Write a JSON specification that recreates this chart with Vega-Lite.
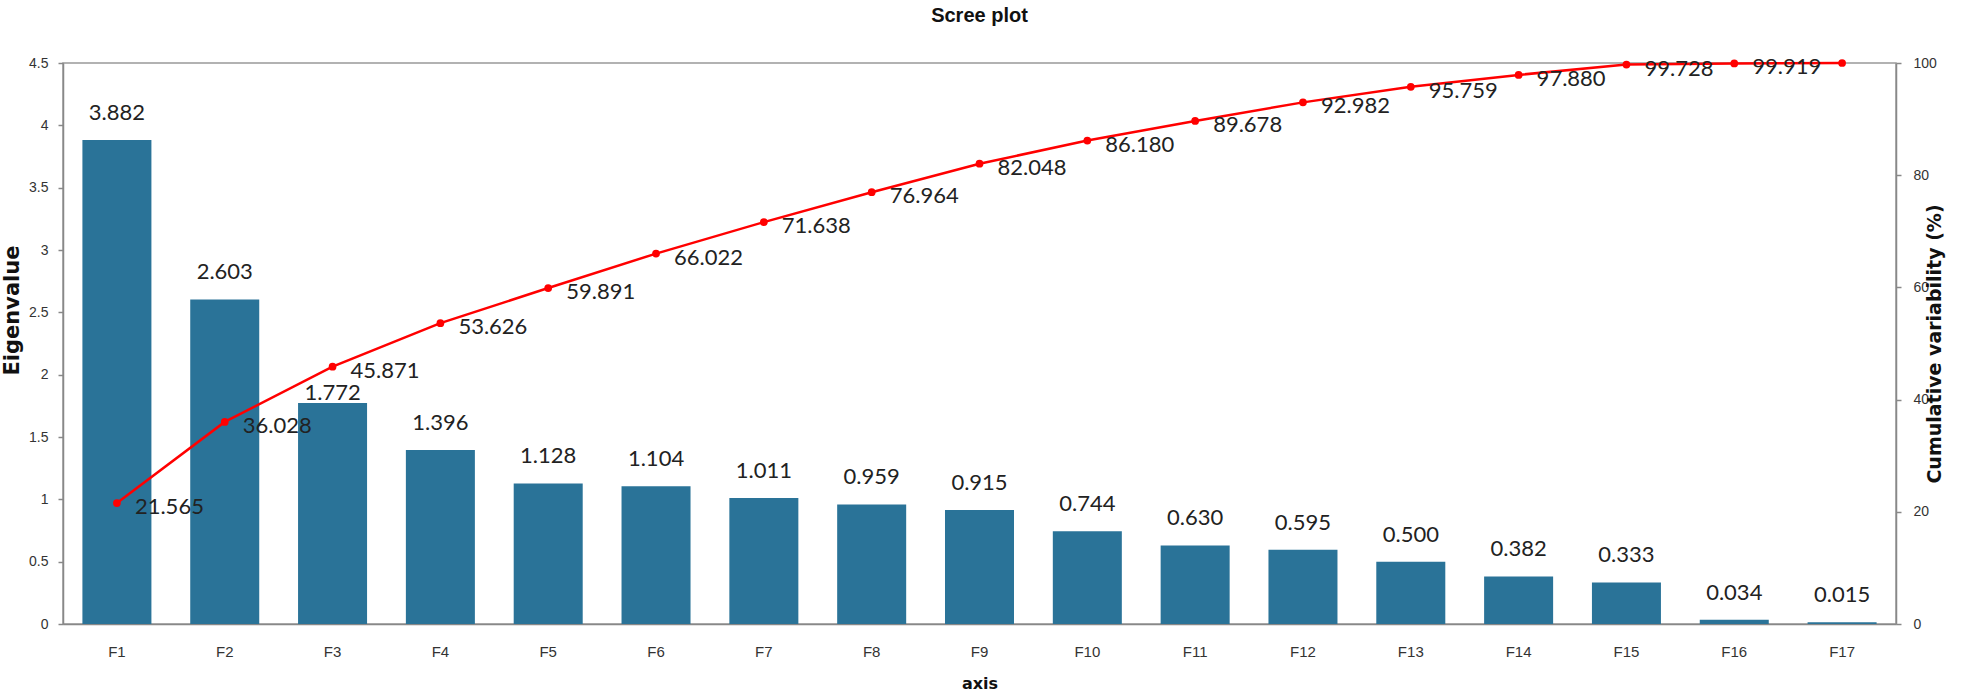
{
  "$schema": "https://vega.github.io/schema/vega-lite/v6.json",
  "autosize": {"type": "none"},
  "width": 1833,
  "height": 561,
  "padding": {"left": 63, "top": 63, "right": 73, "bottom": 73},
  "background": "white",
  "title": {"text": "Scree plot", "anchor": "middle", "font": "Liberation Sans", "fontSize": 20, "fontWeight": "bold", "color": "#111", "offset": 30},
  "config": {
    "view": {"stroke": "#999", "strokeWidth": 1.5},
    "axis": {"grid": false, "domainColor": "#888", "domainWidth": 1.5, "tickColor": "#888", "tickWidth": 1.5, "labelColor": "#333", "labelFont": "Liberation Sans", "labelFontSize": 14, "titleFont": "DejaVu Sans", "titleFontWeight": "bold", "titleColor": "#111"}
  },
  "data": {"values": [
    {"axis": "F1", "eigenvalue": 3.882, "cumulative": 21.565},
    {"axis": "F2", "eigenvalue": 2.603, "cumulative": 36.028},
    {"axis": "F3", "eigenvalue": 1.772, "cumulative": 45.871},
    {"axis": "F4", "eigenvalue": 1.396, "cumulative": 53.626},
    {"axis": "F5", "eigenvalue": 1.128, "cumulative": 59.891},
    {"axis": "F6", "eigenvalue": 1.104, "cumulative": 66.022},
    {"axis": "F7", "eigenvalue": 1.011, "cumulative": 71.638},
    {"axis": "F8", "eigenvalue": 0.959, "cumulative": 76.964},
    {"axis": "F9", "eigenvalue": 0.915, "cumulative": 82.048},
    {"axis": "F10", "eigenvalue": 0.744, "cumulative": 86.180},
    {"axis": "F11", "eigenvalue": 0.630, "cumulative": 89.678},
    {"axis": "F12", "eigenvalue": 0.595, "cumulative": 92.982},
    {"axis": "F13", "eigenvalue": 0.500, "cumulative": 95.759},
    {"axis": "F14", "eigenvalue": 0.382, "cumulative": 97.880},
    {"axis": "F15", "eigenvalue": 0.333, "cumulative": 99.728},
    {"axis": "F16", "eigenvalue": 0.034, "cumulative": 99.919},
    {"axis": "F17", "eigenvalue": 0.015, "cumulative": 100.000}
  ]},
  "encoding": {
    "x": {"field": "axis", "type": "nominal", "sort": null, "scale": {"paddingInner": 0.36, "paddingOuter": 0.18},
      "axis": {"title": "axis", "titleFontSize": 16, "labelFontSize": 15, "labelAngle": 0, "ticks": false, "labelPadding": 20, "titlePadding": 16}}
  },
  "layer": [
    {
      "encoding": {
        "y": {"field": "eigenvalue", "type": "quantitative", "scale": {"domain": [0, 4.5], "nice": false},
          "axis": {"title": "Eigenvalue", "titleFontSize": 21, "titleY": 247, "values": [0, 0.5, 1, 1.5, 2, 2.5, 3, 3.5, 4, 4.5], "format": "~g", "tickSize": 5, "labelPadding": 10, "titlePadding": 6}}
      },
      "layer": [
        {"mark": {"type": "bar", "color": "#2a7398"}},
        {"transform": [{"filter": "datum.axis != 'F3'"}],
          "mark": {"type": "text", "font": "Lato", "fontSize": 22, "color": "#222", "baseline": "alphabetic", "dy": -20},
          "encoding": {"text": {"field": "eigenvalue", "type": "quantitative", "format": ".3f"}}},
        {"transform": [{"filter": "datum.axis == 'F3'"}],
          "mark": {"type": "text", "font": "Lato", "fontSize": 22, "color": "#222", "baseline": "alphabetic", "dy": -3},
          "encoding": {"text": {"field": "eigenvalue", "type": "quantitative", "format": ".3f"}}}
      ]
    },
    {
      "encoding": {
        "y": {"field": "cumulative", "type": "quantitative", "scale": {"domain": [0, 100], "nice": false},
          "axis": {"title": "Cumulative variability (%)", "titleFontSize": 19, "orient": "right", "values": [0, 20, 40, 60, 80, 100], "tickSize": 5, "labelPadding": 12, "titlePadding": 8, "titleAngle": 270}}
      },
      "layer": [
        {"mark": {"type": "line", "color": "#ff0000", "strokeWidth": 2.5, "point": {"filled": true, "color": "#ff0000", "size": 60}}},
        {"transform": [{"filter": "datum.axis != 'F17'"}],
          "mark": {"type": "text", "font": "Lato", "fontSize": 22, "color": "#222", "align": "left", "baseline": "middle", "dx": 18, "dy": 4},
          "encoding": {"text": {"field": "cumulative", "type": "quantitative", "format": ".3f"}}}
      ]
    }
  ],
  "resolve": {"scale": {"y": "independent"}}
}
